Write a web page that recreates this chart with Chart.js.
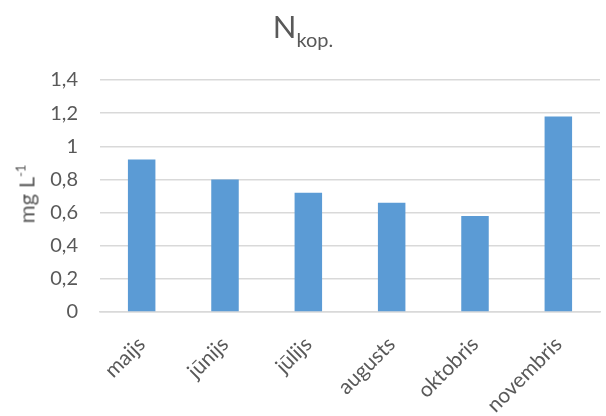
<!DOCTYPE html>
<html>
<head>
<meta charset="utf-8">
<script src="https://cdn.jsdelivr.net/npm/chart.js@4.4.1/dist/chart.umd.min.js"></script>
<style>
    body { margin: 0; background: #fff; }
    #wrap { position: relative; width: 606px; height: 416px; font-family: Lato, "Open Sans", sans-serif; color: #595959; }
    #chart { position: absolute; left: 0; top: 0; }
    #title { position: absolute; left: 0; top: 6px; width: 606px; text-align: center; font-size: 31px; line-height: 40px; }
    #title sub { font-size: 20px; vertical-align: -9px; }
    #ylabel { position: absolute; left: 26px; top: 194px; transform: translate(-50%, -50%) rotate(-90deg); font-size: 22px; white-space: nowrap; }
    #ylabel sup { font-size: 13px; vertical-align: 9px; }
</style>
</head>
<body>
<div id="wrap">
    <canvas id="chart" width="606" height="416"></canvas>
    <div id="title">N<sub>kop.</sub></div>
    <div id="ylabel">mg L<sup>-1</sup></div>
</div>
<script>
// months and total nitrogen, mg/L
var months = ['maijs', 'jūnijs', 'jūlijs', 'augusts', 'oktobris', 'novembris'];
var nKop = [0.92, 0.80, 0.72, 0.66, 0.58, 1.18];
var yTicks = [0, 0.2, 0.4, 0.6, 0.8, 1, 1.2, 1.4];

var ctx = document.getElementById('chart').getContext('2d');
var chart = new Chart(ctx, {
    type: 'bar',
    data: {
        labels: months,
        datasets: [{
            data: nKop,
            backgroundColor: '#5B9BD5',
            borderWidth: 0,
            categoryPercentage: 1,
            barPercentage: 0.33
        }]
    },
    options: {
        responsive: false,
        animation: false,
        layout: { padding: { left: 0, right: 6, top: 80, bottom: 0 } },
        plugins: { legend: { display: false }, tooltip: { enabled: false } },
        scales: {
            x: {
                grid: { display: false },
                border: { color: '#D9D9D9', width: 1.5 },
                ticks: {
                    color: '#595959',
                    font: { family: 'Lato', size: 21 },
                    minRotation: 45, maxRotation: 45,
                    padding: 12
                },
                afterFit: function (scale) { scale.height = 104; }
            },
            y: {
                min: 0, max: 1.4,
                afterBuildTicks: function (scale) {
                    scale.ticks = yTicks.map(function (v) { return { value: v }; });
                },
                grid: { color: '#D9D9D9', lineWidth: 1.5, drawTicks: false },
                border: { display: false },
                ticks: {
                    color: '#595959',
                    font: { family: 'Lato', size: 20 },
                    padding: 22,
                    callback: function (v) { return String(Number(v.toFixed(1))).replace('.', ','); }
                },
                afterFit: function (scale) { scale.width = 100; }
            }
        }
    }
});
</script>
</body>
</html>
